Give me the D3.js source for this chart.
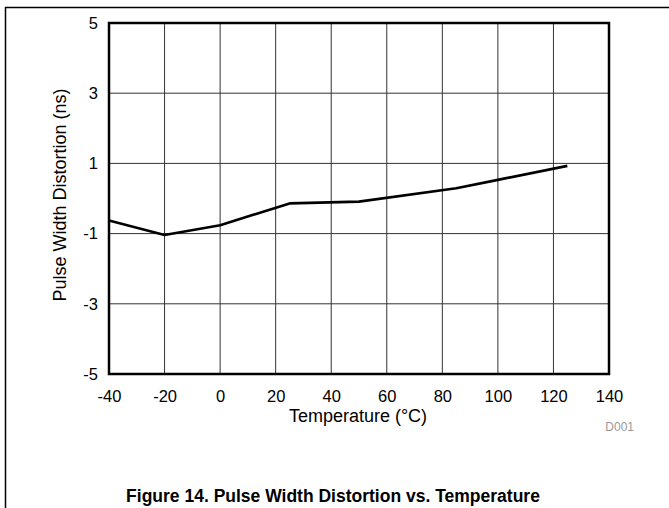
<!DOCTYPE html>
<html><head><meta charset="utf-8">
<script src="https://cdn.jsdelivr.net/npm/d3@7"></script>
<style>body{margin:0;background:#fff}svg{display:block;font-family:"Liberation Sans",Arial,sans-serif}</style>
</head><body>
<script>
const temperature = [-40, -20, 0, 25, 50, 85, 100, 125];
const pwd = [-0.63, -1.04, -0.76, -0.14, -0.09, 0.29, 0.53, 0.93];
const xTicks = [-40, -20, 0, 20, 40, 60, 80, 100, 120, 140];
const yTicks = [-5, -3, -1, 1, 3, 5];
const xLabel = "Temperature (°C)";
const yLabel = "Pulse Width Distortion (ns)";
const caption = "Figure 14. Pulse Width Distortion vs. Temperature";
const code = "D001";

const W = 669, H = 508;
const m = {l: 109, t: 23, r: 609, b: 374};
const svg = d3.select("body").append("svg").attr("width", W).attr("height", H);
const x = d3.scaleLinear().domain([-40, 140]).range([m.l, m.r]);
const y = d3.scaleLinear().domain([-5, 5]).range([m.b, m.t]);

// outer frame
svg.append("line").attr("x1", 5).attr("x2", W).attr("y1", 7.5).attr("y2", 7.5).attr("stroke", "#000").attr("stroke-width", 1.5);
svg.append("line").attr("x1", 5.5).attr("x2", 5.5).attr("y1", 7).attr("y2", H).attr("stroke", "#000").attr("stroke-width", 1.5);

// grid
const g = svg.append("g");
g.selectAll(".vg").data(xTicks).join("line")
  .attr("x1", d => x(d)).attr("x2", d => x(d)).attr("y1", m.t).attr("y2", m.b)
  .attr("stroke", "#333").attr("stroke-width", 1);
g.selectAll(".hg").data(yTicks).join("line")
  .attr("x1", m.l).attr("x2", m.r).attr("y1", d => y(d)).attr("y2", d => y(d))
  .attr("stroke", "#333").attr("stroke-width", 1);

// axes via d3 (labels only)
const fmt = d => String(d);
const xAxis = d3.axisBottom(x).tickValues(xTicks).tickSize(0).tickPadding(16).tickFormat(fmt);
const gx = svg.append("g").attr("transform", `translate(0,${m.b})`).call(xAxis);
const yAxis = d3.axisLeft(y).tickValues(yTicks).tickSize(0).tickPadding(11).tickFormat(fmt);
const gy = svg.append("g").attr("transform", `translate(${m.l},0)`).call(yAxis);
[gx, gy].forEach(a => {
  a.select(".domain").remove();
  a.selectAll("text").attr("font-family", '"Liberation Sans",Arial,sans-serif').attr("font-size", 16.5).attr("fill", "#000");
});

// border
svg.append("rect").attr("x", m.l).attr("y", m.t).attr("width", m.r - m.l).attr("height", m.b - m.t)
  .attr("fill", "none").attr("stroke", "#000").attr("stroke-width", 2.5);

// line
const line = d3.line().x((d, i) => x(temperature[i])).y(d => y(d));
svg.append("path").datum(pwd).attr("d", line).attr("fill", "none").attr("stroke", "#000").attr("stroke-width", 2.6).attr("stroke-linejoin", "round");

// titles
svg.append("text").attr("x", 358).attr("y", 422).attr("text-anchor", "middle").attr("font-size", 18).text(xLabel);
svg.append("text").attr("transform", `translate(66,195) rotate(-90)`).attr("text-anchor", "middle").attr("font-size", 18).text(yLabel);
svg.append("text").attr("x", 634).attr("y", 431).attr("text-anchor", "end").attr("font-size", 12).attr("fill", "#999").text(code);
svg.append("text").attr("x", 333).attr("y", 502).attr("text-anchor", "middle").attr("font-size", 17.5).attr("font-weight", "bold").text(caption);
</script>
</body></html>
